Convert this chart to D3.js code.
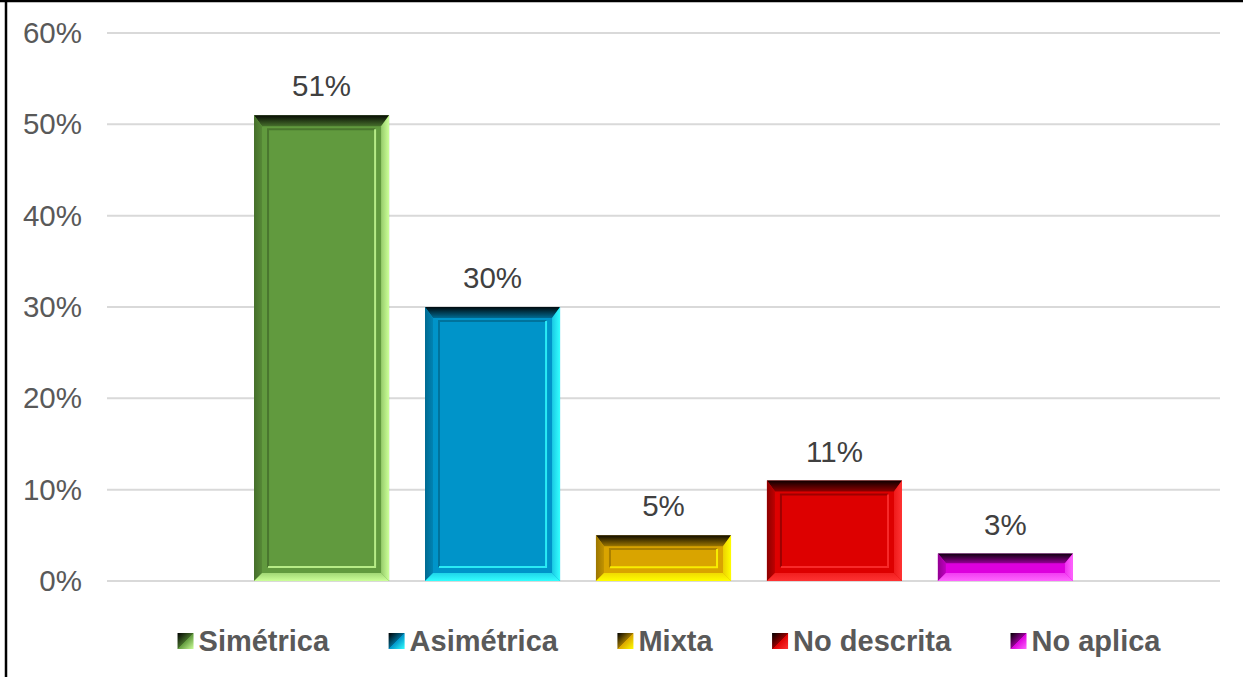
<!DOCTYPE html>
<html>
<head>
<meta charset="utf-8">
<script src="https://cdn.jsdelivr.net/npm/d3@7/dist/d3.min.js"></script>
<style>
  html, body { margin: 0; padding: 0; background: #ffffff; }
  svg { display: block; }
  text { font-family: "Liberation Sans", Arial, sans-serif; }
</style>
</head>
<body>
<svg id="chart" width="1243" height="677"></svg>
<script>
// ---- data ----
const categories = ["Simétrica", "Asimétrica", "Mixta", "No descrita", "No aplica"];
const values = [51, 30, 5, 11, 3];
const tickValues = [0, 10, 20, 30, 40, 50, 60];
const baseColors  = ["#619a3e", "#0094c9", "#d9a400", "#dd0000", "#dd00dd"];
const lightColors = ["#ccff99", "#33ffff", "#ffff00", "#ff3333", "#ff66ff"];
const darkColors  = ["#456e2b", "#006a91", "#9c7600", "#8e0000", "#930093"];

const W = 1243, H = 677;
const svg = d3.select("#chart");
const defs = svg.append("defs");

// frame (left + top border visible)
svg.append("line").attr("x1", 6).attr("y1", 0).attr("x2", 6).attr("y2", H)
  .attr("stroke", "#000").attr("stroke-width", 2.5);
svg.append("line").attr("x1", 0).attr("y1", 1).attr("x2", W).attr("y2", 1)
  .attr("stroke", "#000").attr("stroke-width", 2.5);

const plot = { left: 107, right: 1220, top: 33, bottom: 581 };

const y = d3.scaleLinear().domain([0, 60]).range([plot.bottom, plot.top]);
const x = d3.scaleBand().domain(categories)
  .range([plot.left, plot.right]).paddingInner(0.21).paddingOuter(0.86);

// gridlines
svg.append("g").selectAll("line").data(tickValues).join("line")
  .attr("x1", plot.left).attr("x2", plot.right)
  .attr("y1", d => y(d)).attr("y2", d => y(d))
  .attr("stroke", "#d9d9d9").attr("stroke-width", 2);

// y tick labels via axis
const yAxis = d3.axisLeft(y).tickValues(tickValues).tickFormat(d => d + "%").tickSize(0).tickPadding(0);
const ga = svg.append("g").attr("transform", `translate(82,0)`).call(yAxis);
ga.select(".domain").remove();
ga.selectAll("text").attr("font-size", 29.5).attr("fill", "#595959")
  .attr("font-family", "Liberation Sans, Arial, sans-serif");

// gradients
categories.forEach((c, i) => {
  const gTop = defs.append("linearGradient").attr("id", "gt" + i)
    .attr("x1", 0).attr("y1", 0).attr("x2", 0).attr("y2", 1);
  gTop.append("stop").attr("offset", 0).attr("stop-color", d3.interpolateRgb(darkColors[i], "#000")(0.9));
  gTop.append("stop").attr("offset", 1).attr("stop-color", darkColors[i]);
  const gRight = defs.append("linearGradient").attr("id", "gr" + i)
    .attr("x1", 0).attr("y1", 0).attr("x2", 1).attr("y2", 0);
  gRight.append("stop").attr("offset", 0).attr("stop-color", d3.interpolateRgb(baseColors[i], lightColors[i])(0.5));
  gRight.append("stop").attr("offset", 1).attr("stop-color", lightColors[i]);
  const gLeft = defs.append("linearGradient").attr("id", "gl" + i)
    .attr("x1", 0).attr("y1", 0).attr("x2", 1).attr("y2", 0);
  gLeft.append("stop").attr("offset", 0).attr("stop-color", darkColors[i]);
  gLeft.append("stop").attr("offset", 1).attr("stop-color", d3.interpolateRgb(darkColors[i], baseColors[i])(0.6));
  const gBot = defs.append("linearGradient").attr("id", "gb" + i)
    .attr("x1", 0).attr("y1", 0).attr("x2", 0).attr("y2", 1);
  gBot.append("stop").attr("offset", 0).attr("stop-color", d3.interpolateRgb(baseColors[i], lightColors[i])(0.6));
  gBot.append("stop").attr("offset", 1).attr("stop-color", lightColors[i]);
  // legend marker
  const gM = defs.append("linearGradient").attr("id", "gm" + i)
    .attr("x1", 0).attr("y1", 0).attr("x2", 1).attr("y2", 1);
  gM.append("stop").attr("offset", 0).attr("stop-color", "#000");
  gM.append("stop").attr("offset", 0.5).attr("stop-color", darkColors[i]);
  gM.append("stop").attr("offset", 0.5).attr("stop-color", baseColors[i]);
  gM.append("stop").attr("offset", 1).attr("stop-color", lightColors[i]);
});

const pts = a => a.map(p => p.join(",")).join(" ");

// bars
const bars = svg.append("g");
categories.forEach((c, i) => {
  const bx = x(c), bw = x.bandwidth();
  const by = y(values[i]), bh = y(0) - y(values[i]);
  const g = bars.append("g");
  const bt = Math.min(11, bh * 0.35), bs = 8, bb = Math.min(8, bh * 0.3);
  g.append("rect").attr("x", bx).attr("y", by).attr("width", bw).attr("height", bh)
    .attr("fill", baseColors[i]);
  // top
  g.append("polygon").attr("points", pts([[bx, by], [bx + bw, by], [bx + bw - bs, by + bt], [bx + bs, by + bt]]))
    .attr("fill", `url(#gt${i})`);
  // left
  g.append("polygon").attr("points", pts([[bx, by], [bx + bs, by + bt], [bx + bs, by + bh - bb], [bx, by + bh]]))
    .attr("fill", `url(#gl${i})`);
  // right
  g.append("polygon").attr("points", pts([[bx + bw, by], [bx + bw, by + bh], [bx + bw - bs, by + bh - bb], [bx + bw - bs, by + bt]]))
    .attr("fill", `url(#gr${i})`);
  // bottom
  g.append("polygon").attr("points", pts([[bx, by + bh], [bx + bw, by + bh], [bx + bw - bs, by + bh - bb], [bx + bs, by + bh - bb]]))
    .attr("fill", `url(#gb${i})`);
  // inner frame
  if (bh > 35) {
    const ins = 14, insT = Math.min(14, bh * 0.3), insB = Math.min(14, bh * 0.3);
    const ix1 = bx + ins, ix2 = bx + bw - ins, iy1 = by + insT, iy2 = by + bh - insB;
    g.append("path").attr("d", `M${ix1},${iy2} L${ix1},${iy1} L${ix2},${iy1}`)
      .attr("fill", "none").attr("stroke", darkColors[i]).attr("stroke-width", 2).attr("stroke-opacity", 0.8);
    g.append("path").attr("d", `M${ix2},${iy1} L${ix2},${iy2} L${ix1},${iy2}`)
      .attr("fill", "none").attr("stroke", lightColors[i]).attr("stroke-width", 2).attr("stroke-opacity", 0.8);
  }
  // value label
  svg.append("text").attr("x", bx + bw / 2).attr("y", by - 19)
    .attr("text-anchor", "middle").attr("font-size", 29.5).attr("fill", "#404040")
    .text(values[i] + "%");
});

// legend
const legend = svg.append("g");
const items = categories.map((c, i) => {
  const g = legend.append("g");
  g.append("rect").attr("x", 0).attr("y", -8).attr("width", 16).attr("height", 16)
    .attr("fill", `url(#gm${i})`);
  const t = g.append("text").attr("x", 21).attr("y", 0).attr("dy", "0.35em")
    .attr("font-size", 29).attr("font-weight", "bold").attr("fill", "#595959").text(c);
  return { g, w: 21 + t.node().getComputedTextLength() };
});
const gap = 59.5;
const total = d3.sum(items, d => d.w) + gap * (items.length - 1);
let cx = 669 - total / 2;
items.forEach(it => { it.g.attr("transform", `translate(${cx},641)`); cx += it.w + gap; });
</script>
</body>
</html>
